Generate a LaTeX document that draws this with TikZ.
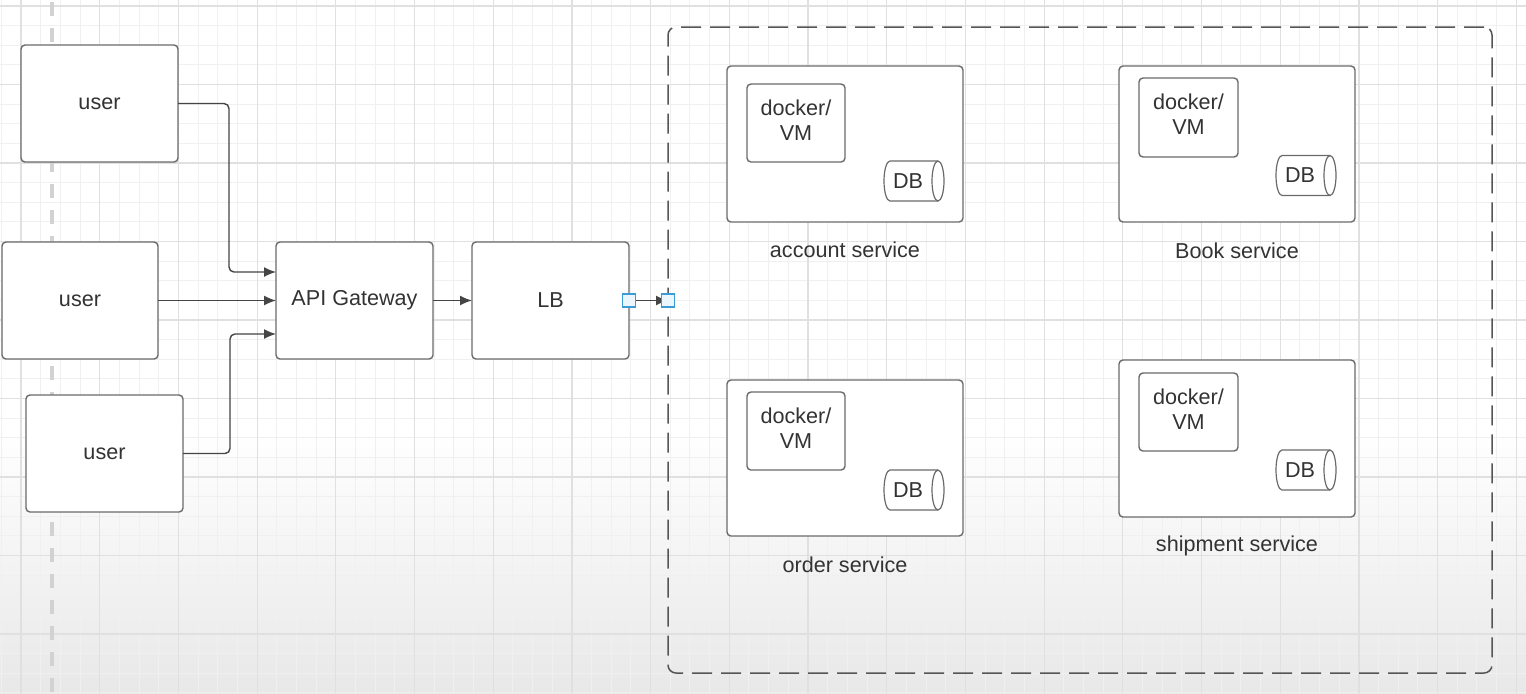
\documentclass[tikz,border=0pt]{standalone}
\usepackage{fontspec}
\setmainfont{Liberation Sans}
\usetikzlibrary{arrows.meta,calc}
\definecolor{boxgray}{HTML}{6A6A6A}
\definecolor{txt}{HTML}{333333}
\definecolor{conn}{HTML}{454545}
\definecolor{gridminor}{HTML}{F0F0F0}
\definecolor{gridmajor}{HTML}{E0E0E0}
\definecolor{handle}{HTML}{3A9BD5}
\definecolor{handlefill}{HTML}{EAF5FC}
\definecolor{sidedash}{HTML}{D2D2D2}
\definecolor{dashgray}{HTML}{555555}
\newcommand\dbcyl[1]{%
  \draw[dbline] ($(#1.center)+(15pt,10pt)$) -- ($(#1.center)+(-9pt,10pt)$)
    arc[start angle=90,end angle=270,x radius=3pt,y radius=10pt]
    -- ($(#1.center)+(15pt,-10pt)$);
  \draw[dbline] ($(#1.center)+(15pt,0pt)$) ellipse[x radius=3pt,y radius=10pt];}
\begin{document}
\begin{tikzpicture}[x=0.5pt,y=-0.5pt,
  txtfont/.style={font=\fontsize{10.8}{12.5}\selectfont},
  box/.style={draw=boxgray, fill=white, line width=0.7pt, rounded corners=2pt,
    text=txt, txtfont, inner sep=0pt, outer sep=0pt, align=center},
  userbox/.style={box, minimum width=78.5pt, minimum height=58.5pt},
  svcbox/.style={box, minimum width=118pt, minimum height=78pt},
  dockbox/.style={box, minimum width=49pt, minimum height=39pt},
  dbnode/.style={text=txt, txtfont, inner sep=0pt},
  dbline/.style={draw=boxgray, line width=0.6pt},
  lbl/.style={text=txt, txtfont, inner sep=0pt},
  connector/.style={draw=conn, line width=0.7pt, rounded corners=2.5pt,
    -{Latex[length=6pt,width=5pt]}},
  handlebox/.style={draw=handle, fill=handlefill, line width=0.7pt,
    minimum size=6.5pt, inner sep=0pt, outer sep=0pt}
]
\useasboundingbox (0,0) rectangle (1526,693);
% background
\fill[white] (0,0) rectangle (1526,430);
\shade[top color=white, bottom color=black!9] (0,430) rectangle (1526,693);
\foreach \k in {-1,...,76} \draw[gridminor, line width=0.5pt] ({21+19.675*\k},0) -- ({21+19.675*\k},693);
\foreach \k in {0,...,35} \draw[gridminor, line width=0.5pt] (0,{6+19.625*\k}) -- (1526,{6+19.625*\k});
\foreach \k in {0,...,19} \draw[gridmajor, line width=0.6pt] ({21+78.7*\k},0) -- ({21+78.7*\k},693);
\foreach \k in {0,...,8} \draw[gridmajor, line width=0.6pt] (0,{6+78.5*\k}) -- (1526,{6+78.5*\k});
\draw[sidedash, line width=1.8pt, dash pattern=on 7pt off 6pt] (52,2) -- (52,693);

% dashed container
\node[draw=dashgray, line width=0.75pt, dash pattern=on 10pt off 4.5pt, rounded corners=4pt,
  minimum width=412pt, minimum height=323pt, inner sep=0pt, outer sep=0pt] (cont) at (1080,350) {};

% users and gateway
\node[userbox] (u1) at (99.5,103.5) {user};
\node[userbox, minimum width=78pt] (u2) at (80,300.5) {user};
\node[userbox] (u3) at (104.5,453.5) {user};
\node[userbox] (api) at (354.5,300.5) {API Gateway};
\node[userbox] (lb) at (550.5,300.5) {LB};

% services
\node[svcbox] (acc) at (845,144) {};
\node[dockbox] (accd) at (796,123) {docker/\\VM\rule[-3pt]{0pt}{0pt}};
\node[dbnode] (accdb) at (908,181) {DB};
\dbcyl{accdb}
\node[lbl] (accl) at (845,250) {account service};

\node[svcbox] (book) at (1237,144) {};
\node[dockbox, minimum width=49.5pt, minimum height=39.5pt] (bookd) at (1188.5,117.5) {docker/\\VM\rule[-3pt]{0pt}{0pt}};
\node[dbnode] (bookdb) at (1300,175.5) {DB};
\dbcyl{bookdb}
\node[lbl] (bookl) at (1237,251) {Book service};

\node[svcbox] (ord) at (845,458) {};
\node[dockbox] (ordd) at (796,431) {docker/\\VM\rule[-3pt]{0pt}{0pt}};
\node[dbnode] (orddb) at (908,490) {DB};
\dbcyl{orddb}
\node[lbl] (ordl) at (845,565) {order service};

\node[svcbox, minimum height=78.5pt] (ship) at (1237,438.5) {};
\node[dockbox, minimum width=49.5pt] (shipd) at (1188.5,412) {docker/\\VM\rule[-3pt]{0pt}{0pt}};
\node[dbnode] (shipdb) at (1300,470) {DB};
\dbcyl{shipdb}
\node[lbl] (shipl) at (1237,546) {shipment service};

% connectors
\draw[connector] (u1.east) -- (229,103.5) |- ($(api.west)+(0,-28.5)$);
\draw[connector] (u2.east) -- (api.west);
\draw[connector] (u3.east) -- (230,453.5) |- ($(api.west)+(0,33.5)$);
\draw[connector] (api.east) -- (lb.west);
\draw[connector] (lb.east) -- (cont.west |- lb.east);
\node[handlebox] (h1) at (lb.east) {};
\node[handlebox] (h2) at (cont.west |- lb.east) {};
\end{tikzpicture}
\end{document}
